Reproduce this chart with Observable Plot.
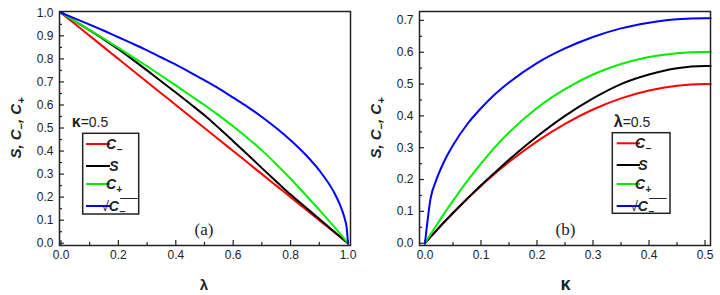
<!DOCTYPE html>
<html>
<head>
<meta charset="utf-8">
<script src="https://cdn.jsdelivr.net/npm/d3@7"></script>
<script src="https://cdn.jsdelivr.net/npm/@observablehq/plot@0.6"></script>
<style>
  body { margin: 0; background: #fff; }
  #wrap { display: flex; width: 720px; height: 295px; }
</style>
</head>
<body>
<div id="wrap"></div>
<script>
// ---------- Panel (a): kappa = 0.5, functions of lambda ----------
const lambdaA = [0, 0.05, 0.1, 0.15, 0.2, 0.25, 0.3, 0.35, 0.4, 0.45, 0.5, 0.55, 0.6, 0.65, 0.7, 0.75, 0.8, 0.85, 0.9, 0.95, 0.97, 0.98, 0.99, 0.995, 1];
const cMinusA = [1, 0.95, 0.9, 0.85, 0.8, 0.75, 0.7, 0.65, 0.6, 0.55, 0.5, 0.45, 0.4, 0.35, 0.3, 0.25, 0.2, 0.15, 0.1, 0.05, 0.03, 0.02, 0.01, 0.005, 0];
const sA = [1, 0.963, 0.924, 0.884, 0.842, 0.797, 0.75, 0.702, 0.654, 0.605, 0.555, 0.5, 0.443, 0.385, 0.326, 0.268, 0.211, 0.158, 0.105, 0.052, 0.031, 0.021, 0.01, 0.005, 0];
const cPlusA = [1, 0.963, 0.925, 0.887, 0.848, 0.808, 0.768, 0.727, 0.685, 0.642, 0.6, 0.555, 0.507, 0.457, 0.403, 0.343, 0.28, 0.213, 0.145, 0.074, 0.045, 0.03, 0.015, 0.0075, 0];
const rootCMinusA = [1, 0.975, 0.949, 0.922, 0.894, 0.866, 0.837, 0.806, 0.775, 0.742, 0.707, 0.671, 0.632, 0.592, 0.548, 0.5, 0.447, 0.387, 0.316, 0.224, 0.173, 0.141, 0.1, 0.071, 0];

// ---------- Panel (b): lambda = 0.5, functions of kappa ----------
const kappaB = [0, 0.01, 0.02, 0.03, 0.04, 0.05, 0.075, 0.1, 0.125, 0.15, 0.2, 0.25, 0.3, 0.35, 0.4, 0.45, 0.5, 0.51];
const cMinusB = [0, 0.0198, 0.0392, 0.0582, 0.0768, 0.095, 0.139, 0.18, 0.219, 0.255, 0.32, 0.375, 0.42, 0.455, 0.48, 0.495, 0.5, 0.4998];
const sB = [0, 0.0198, 0.0392, 0.0582, 0.0768, 0.095, 0.139, 0.182, 0.222, 0.262, 0.335, 0.4, 0.455, 0.5, 0.53, 0.55, 0.557, 0.557];
const cPlusB = [0, 0.028, 0.055, 0.082, 0.108, 0.133, 0.194, 0.25, 0.302, 0.348, 0.425, 0.484, 0.53, 0.563, 0.585, 0.597, 0.601, 0.601];
const rootCMinusB = [0, 0.141, 0.198, 0.241, 0.277, 0.308, 0.373, 0.424, 0.468, 0.505, 0.566, 0.612, 0.648, 0.675, 0.693, 0.704, 0.707, 0.707];

// ---------- Axis ticks ----------
const xMajorA = [0, 0.2, 0.4, 0.6, 0.8, 1.0];
const xMinorA = [0.1, 0.3, 0.5, 0.7, 0.9];
const yMajorA = [0, 0.1, 0.2, 0.3, 0.4, 0.5, 0.6, 0.7, 0.8, 0.9, 1.0];
const yMinorA = [0.05, 0.15, 0.25, 0.35, 0.45, 0.55, 0.65, 0.75, 0.85, 0.95];
const xMajorB = [0, 0.1, 0.2, 0.3, 0.4, 0.5];
const xMinorB = [0.05, 0.15, 0.25, 0.35, 0.45];
const yMajorB = [0, 0.1, 0.2, 0.3, 0.4, 0.5, 0.6, 0.7];
const yMinorB = [0.05, 0.15, 0.25, 0.35, 0.45, 0.55, 0.65];

// ---------- Series styling ----------
const seriesKeys = ["cMinus", "s", "cPlus", "rootCMinus"];
const seriesColors = ["#ff0000", "#000000", "#00ee00", "#0000ff"];

const W = 360, H = 295;
const M = {top: 11, right: 10, bottom: 50, left: 59};
const ink = "#222";
const sans = "'Liberation Sans', Arial, sans-serif";

function panel({xs, values, xDomain, yDomain, xMajor, xMinor, yMajor, yMinor}) {
  const xPerPx = (xDomain[1] - xDomain[0]) / (W - M.left - M.right);
  const yPerPx = (yDomain[1] - yDomain[0]) / (H - M.top - M.bottom);
  const x0 = xDomain[0], y0 = yDomain[0];
  const fmt = d3.format(".1f");
  const tickStyle = {stroke: ink, strokeWidth: 1.2};
  return Plot.plot({
    width: W, height: H,
    marginTop: M.top, marginRight: M.right, marginBottom: M.bottom, marginLeft: M.left,
    x: {domain: xDomain},
    y: {domain: yDomain},
    style: {fontFamily: sans, fontSize: "12px", color: ink, background: "#fff", overflow: "visible"},
    marks: [
      // inward-pointing major and minor ticks
      Plot.ruleX(xMajor, {x: d => d, y1: y0, y2: y0 + 5 * yPerPx, ...tickStyle}),
      Plot.ruleX(xMinor, {x: d => d, y1: y0, y2: y0 + 3 * yPerPx, ...tickStyle}),
      Plot.ruleY(yMajor, {y: d => d, x1: x0, x2: x0 + 5 * xPerPx, ...tickStyle}),
      Plot.ruleY(yMinor, {y: d => d, x1: x0, x2: x0 + 3 * xPerPx, ...tickStyle}),
      Plot.axisX(xMajor, {anchor: "bottom", tickSize: 0, tickPadding: 5, tickFormat: fmt, label: null}),
      Plot.axisY(yMajor, {anchor: "left", tickSize: 0, tickPadding: 6, tickFormat: fmt, label: null}),
      ...values.map((v, i) => Plot.line(v, {x: xs, y: d => d, stroke: seriesColors[i], strokeWidth: 2, curve: "monotone-x"})),
      Plot.frame({stroke: ink, strokeWidth: 1.5})
    ]
  });
}

function yTitle(svg) {
  const t = svg.append("text")
    .attr("transform", "translate(21,128) rotate(-90)")
    .attr("text-anchor", "middle")
    .attr("font-family", sans).attr("font-weight", "bold").attr("font-style", "italic")
    .attr("font-size", 15).attr("fill", ink);
  t.append("tspan").text("S, C");
  t.append("tspan").attr("font-size", 11).attr("dy", 4).text("\u2212");
  t.append("tspan").attr("dy", -4).text(", C");
  t.append("tspan").attr("font-size", 11).attr("dy", 4).text("+");
}

function legend(svg, {box, lineX, textX, rows, param, paramX}) {
  const g = svg.append("g").attr("font-family", sans).attr("fill", ink);
  const p = g.append("text").attr("x", paramX).attr("y", 127).attr("font-size", 14);
  p.append("tspan").attr("font-weight", "bold").attr("font-size", 16).text(param);
  p.append("tspan").text("=0.5");
  g.append("rect").attr("x", box[0]).attr("y", box[1]).attr("width", box[2]).attr("height", box[3])
    .attr("fill", "#fff").attr("stroke", ink).attr("stroke-width", 1.5);
  seriesKeys.forEach((k, i) => {
    g.append("line").attr("x1", lineX[0]).attr("x2", lineX[1]).attr("y1", rows[i]).attr("y2", rows[i])
      .attr("stroke", seriesColors[i]).attr("stroke-width", 2);
    const t = g.append("text").attr("x", textX).attr("y", rows[i] + 5)
      .attr("font-size", 14).attr("font-style", "italic").attr("font-weight", "bold");
    if (k === "s") {
      t.text("S");
    } else if (k === "cPlus" || k === "cMinus") {
      t.append("tspan").text("C");
      t.append("tspan").attr("font-size", 10).attr("dy", 4).text(k === "cPlus" ? "+" : "\u2212");
    } else {
      // square root with an overline spanning the radicand
      t.attr("x", textX - 1);
      const root = t.append("tspan").attr("font-style", "normal").attr("font-weight", "normal").text("\u221a");
      const c = t.append("tspan").text("C");
      const sub = t.append("tspan").attr("font-size", 10).attr("dy", 4).text("\u2212");
      const rw = root.node().getComputedTextLength();
      const cw = c.node().getComputedTextLength() + sub.node().getComputedTextLength();
      g.append("line").attr("x1", textX - 1 + rw - 0.5).attr("x2", textX - 1 + rw + cw + 1)
        .attr("y1", rows[i] - 7.5).attr("y2", rows[i] - 7.5).attr("stroke", ink).attr("stroke-width", 1);
    }
  });
}

function decorate(svg, {panelLabel, labelX, axisTitle, axisTitleSize, leg}) {
  yTitle(svg);
  svg.append("text").attr("x", labelX).attr("y", 290).attr("text-anchor", "middle")
    .attr("font-family", sans).attr("font-weight", "bold").attr("fill", ink)
    .attr("font-size", axisTitleSize).text(axisTitle);
  svg.append("text").attr("x", labelX).attr("y", 235).attr("text-anchor", "middle")
    .attr("font-family", "'Liberation Serif', 'Times New Roman', serif").attr("font-size", 17)
    .attr("fill", ink).text(panelLabel);
  legend(svg, leg);
}

const wrap = document.getElementById("wrap");

const svgA = panel({
  xs: lambdaA,
  values: [cMinusA, sA, cPlusA, rootCMinusA],
  xDomain: [-0.0052, 1.0087], yDomain: [-0.0099, 1.0057],
  xMajor: xMajorA, xMinor: xMinorA, yMajor: yMajorA, yMinor: yMinorA
});
wrap.appendChild(svgA);
decorate(d3.select(svgA), {
  panelLabel: "(a)", labelX: 204, axisTitle: "\u03bb", axisTitleSize: 15,
  leg: {box: [82.7, 133.3, 56, 80.7], lineX: [86, 110], textX: 114, rows: [144, 166, 184, 206], param: "\u03ba", paramX: 90}
});

const svgB = panel({
  xs: kappaB,
  values: [cMinusB, sB, cPlusB, rootCMinusB],
  xDomain: [-0.0098, 0.5098], yDomain: [-0.0072, 0.728],
  xMajor: xMajorB, xMinor: xMinorB, yMajor: yMajorB, yMinor: yMinorB
});
wrap.appendChild(svgB);
decorate(d3.select(svgB), {
  panelLabel: "(b)", labelX: 205.5, axisTitle: "\u03ba", axisTitleSize: 18,
  leg: {box: [252.3, 132.7, 57.7, 80.6], lineX: [256.7, 280], textX: 283, rows: [143.3, 165, 184, 206], param: "\u03bb", paramX: 272}
});
</script>
</body>
</html>
